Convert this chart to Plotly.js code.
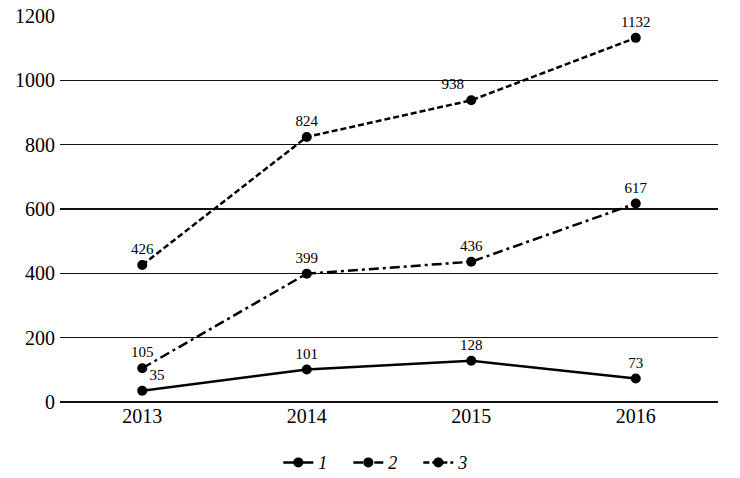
<!DOCTYPE html>
<html><head><meta charset="utf-8">
<script src="https://cdn.plot.ly/plotly-3.0.1.min.js"></script>
<style>html,body{margin:0;padding:0;background:#fff}</style>
</head><body><div id="chart" style="width:740px;height:478px"></div>
<script>
const years = ['2013', '2014', '2015', '2016'];
const series1 = [35, 101, 128, 73];
const series2 = [105, 399, 436, 617];
const series3 = [426, 824, 938, 1132];
const seriesNames = ['1', '2', '3'];
const pos1 = ['top right', 'top center', 'top center', 'top center'];
const pos2 = ['top center', 'top center', 'top center', 'top center'];
const pos3 = ['top center', 'top center', 'top left', 'top center'];
const SERIF = 'Liberation Serif';

function mk(y, name, dash, pos) {
  return {
    x: years, y: y, name: name, type: 'scatter', mode: 'lines+markers+text',
    text: y.map(String), textposition: pos,
    textfont: {family: SERIF, size: 15, color: '#000'},
    line: {color: '#000', width: 2.5, dash: dash},
    marker: {color: '#000', size: 10, symbol: 'circle'},
    cliponaxis: false
  };
}
const data = [
  mk(series1, seriesNames[0], 'solid', pos1),
  mk(series2, seriesNames[1], '10px,4px,3px,4px', pos2),
  mk(series3, seriesNames[2], '6px,3px', pos3)
];
const layout = {
  width: 740, height: 478,
  margin: {l: 60, r: 22, t: 16, b: 76},
  paper_bgcolor: '#fff', plot_bgcolor: '#fff',
  font: {family: SERIF, color: '#000', size: 20},
  showlegend: true,
  legend: {orientation: 'h', xref: 'container', x: 0.518, xanchor: 'center',
    yref: 'container', y: 0.032, yanchor: 'middle', entrywidth: 25,
    font: {size: 18, style: 'italic', family: SERIF}, itemwidth: 30, tracegroupgap: 0},
  xaxis: {type: 'category', showgrid: false, showline: false, zeroline: false,
    ticks: '', tickfont: {size: 20, family: SERIF}, range: [-0.5, 3.5], fixedrange: true},
  yaxis: {range: [0, 1200], dtick: 200, showgrid: true, gridcolor: '#111', gridwidth: 1.4,
    zeroline: true, zerolinecolor: '#111', zerolinewidth: 1.4, showline: false,
    ticks: '', tickfont: {size: 20, family: SERIF}, ticklabelstandoff: 4}
};
Plotly.newPlot('chart', data, layout, {displayModeBar: false, staticPlot: true});
</script></body></html>
